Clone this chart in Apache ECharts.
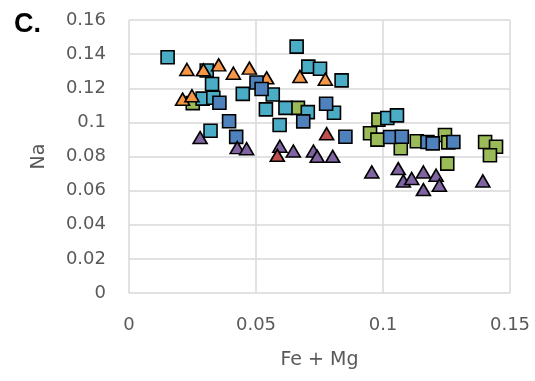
<!DOCTYPE html>
<html>
<head>
<meta charset="utf-8">
<script src="https://cdn.jsdelivr.net/npm/echarts@6/dist/echarts.min.js"></script>
<style>
  html, body { margin: 0; padding: 0; background: #fff; }
  #chart { width: 535px; height: 381px; }
</style>
</head>
<body>
<div id="chart"></div>
<script>
// values, [Fe + Mg, Na]
var greenSquares = [
    [0.0251, 0.1113], [0.0665, 0.1085], [0.0982, 0.1016], [0.0949, 0.0936],
    [0.0978, 0.0899], [0.1070, 0.0848], [0.1133, 0.0889], [0.1244, 0.0926],
    [0.1257, 0.0883], [0.1253, 0.0758], [0.1402, 0.0885], [0.1445, 0.0857],
    [0.1421, 0.0807]
];
var tealSquares = [
    [0.0152, 0.1382], [0.0306, 0.1304], [0.0327, 0.1225], [0.0290, 0.1139],
    [0.0332, 0.1144], [0.0448, 0.1167], [0.0321, 0.0951], [0.0660, 0.1444],
    [0.0706, 0.1327], [0.0752, 0.1314], [0.0837, 0.1246], [0.0566, 0.1163],
    [0.0539, 0.1076], [0.0616, 0.1085], [0.0704, 0.1060], [0.0807, 0.1056],
    [0.0593, 0.0985], [0.1017, 0.1026], [0.1055, 0.1041]
];
var orangeTriangles = [
    [0.0228, 0.1310], [0.0293, 0.1308], [0.0353, 0.1337], [0.0411, 0.1288],
    [0.0474, 0.1318], [0.0211, 0.1136], [0.0248, 0.1156], [0.0542, 0.1261],
    [0.0673, 0.1269], [0.0773, 0.1253]
];
var blueSquares = [
    [0.0502, 0.1234], [0.0522, 0.1196], [0.0356, 0.1115], [0.0394, 0.1007],
    [0.0422, 0.0915], [0.0776, 0.1109], [0.0686, 0.1006], [0.0852, 0.0916],
    [0.1028, 0.0914], [0.1074, 0.0916], [0.1175, 0.0885], [0.1196, 0.0877],
    [0.1277, 0.0885]
];
var purpleTriangles = [
    [0.0280, 0.0911], [0.0426, 0.0852], [0.0463, 0.0846], [0.0594, 0.0860],
    [0.0647, 0.0832], [0.0726, 0.0832], [0.0741, 0.0801], [0.0802, 0.0801],
    [0.0956, 0.0709], [0.1060, 0.0729], [0.1080, 0.0657], [0.1113, 0.0671],
    [0.1159, 0.0709], [0.1209, 0.0690], [0.1222, 0.0632], [0.1159, 0.0606],
    [0.1393, 0.0657]
];
var redTriangles = [
    [0.0778, 0.0934], [0.0584, 0.0807]
];

var labelFont = 'DejaVu Sans';
var gridColor = '#d9d9d9';
var textColor = '#595959';

function markerSeries(data, symbol, color) {
    return {
        type: 'scatter',
        data: data,
        symbol: symbol,
        symbolSize: symbol === 'rect' ? 13 : [14, 12],
        itemStyle: {
            color: color,
            borderColor: '#000',
            borderWidth: 1.6,
            opacity: 1
        },
        emphasis: { disabled: true }
    };
}

function tickText(v) {
    return String(parseFloat(v.toFixed(2)));
}

var option = {
    animation: false,
    backgroundColor: '#fff',
    title: {
        text: 'C.',
        left: 9,
        top: 6,
        textStyle: {
            fontFamily: 'Liberation Sans',
            fontWeight: 'bold',
            fontSize: 27,
            color: '#000'
        }
    },
    grid: {
        left: 129,
        right: 25,
        top: 20,
        bottom: 88
    },
    xAxis: {
        type: 'value',
        min: 0,
        max: 0.15,
        interval: 0.05,
        name: 'Fe + Mg',
        nameLocation: 'middle',
        nameGap: 58,
        nameTextStyle: { fontFamily: labelFont, fontSize: 19, color: textColor },
        axisLine: { show: false },
        axisTick: { show: false },
        axisLabel: {
            margin: 23,
            fontFamily: labelFont,
            fontSize: 18,
            color: textColor,
            formatter: tickText
        },
        splitLine: { show: true, lineStyle: { color: gridColor, width: 1.5 } }
    },
    yAxis: {
        type: 'value',
        min: 0,
        max: 0.16,
        interval: 0.02,
        name: 'Na',
        nameLocation: 'middle',
        nameGap: 80,
        nameTextStyle: { fontFamily: labelFont, fontSize: 19, color: textColor },
        axisLine: { show: false },
        axisTick: { show: false },
        axisLabel: {
            margin: 23,
            fontFamily: labelFont,
            fontSize: 18,
            color: textColor,
            formatter: tickText
        },
        splitLine: { show: true, lineStyle: { color: gridColor, width: 1.5 } }
    },
    series: [
        markerSeries(greenSquares, 'rect', '#9bbb59'),
        markerSeries(tealSquares, 'rect', '#4bacc6'),
        markerSeries(orangeTriangles, 'triangle', '#f79646'),
        markerSeries(blueSquares, 'rect', '#4f81bd'),
        markerSeries(purpleTriangles, 'triangle', '#8064a2'),
        markerSeries(redTriangles, 'triangle', '#c0504d')
    ]
};

var chart = echarts.init(document.getElementById('chart'));
chart.setOption(option);
</script>
</body>
</html>
